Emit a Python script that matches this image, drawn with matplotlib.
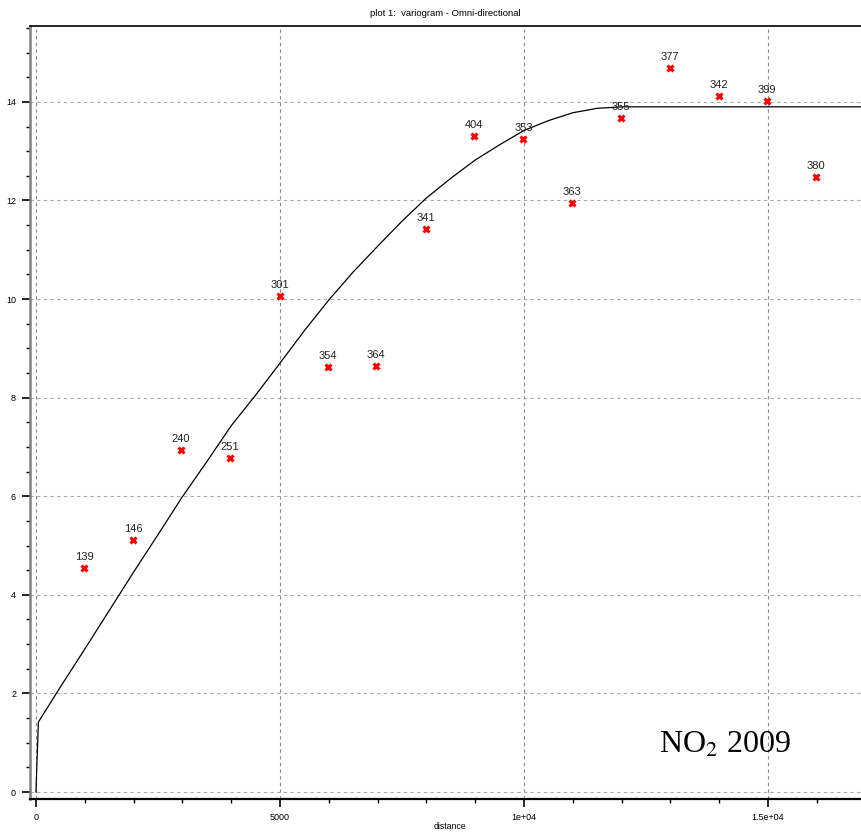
import matplotlib
matplotlib.use("Agg")
import matplotlib.pyplot as plt
from matplotlib.ticker import MultipleLocator

# empirical variogram (distance, semivariance, number of pairs)
dist = [990, 1990, 2970, 3975, 5000, 5985, 6970, 7990, 8975, 9990,
        10985, 11990, 12990, 13995, 14985, 15985]
gamma = [4.54, 5.11, 6.94, 6.78, 10.06, 8.62, 8.64, 11.42, 13.30, 13.25,
         11.95, 13.67, 14.69, 14.12, 14.02, 12.47]
npairs = ["139", "146", "240", "251", "301", "354", "364", "341", "404", "353",
          "363", "355", "377", "342", "399", "380"]

# fitted model curve
model_x = [0, 20, 50, 500, 1000, 1500, 2000, 2500, 3000, 3500, 4000, 4500,
           5000, 5500, 6000, 6500, 7000, 7500, 8000, 8500, 9000, 9500,
           10000, 10500, 11000, 11500, 12000, 16900]
model_y = [0.0, 0.6, 1.42, 2.13, 2.90, 3.68, 4.46, 5.22, 5.99, 6.70, 7.43,
           8.05, 8.70, 9.36, 9.98, 10.55, 11.07, 11.58, 12.05, 12.45, 12.82,
           13.13, 13.42, 13.62, 13.78, 13.87, 13.90, 13.90]

plt.rcParams["font.family"] = ["Liberation Sans", "DejaVu Sans"]

fig = plt.figure(figsize=(8.61, 8.33), dpi=100)
ax = fig.add_axes([0.0348, 0.0408, 0.9652, 0.928])

ax.plot(model_x, model_y, color="black", linewidth=0.9, zorder=3)
ax.plot(dist, gamma, linestyle="none", marker="x", color="#ff0000",
        markersize=5, markeredgewidth=2.2, zorder=4)
for x, y, n in zip(dist, gamma, npairs):
    ax.annotate(n, (x, y), xytext=(0, 4.5), textcoords="offset points",
                ha="center", va="bottom", fontsize=8, color="#222222")

ax.set_xlim(-123, 16906)
ax.set_ylim(-0.142, 15.54)

ax.xaxis.set_major_locator(MultipleLocator(5000))
ax.xaxis.set_minor_locator(MultipleLocator(1000))
ax.yaxis.set_major_locator(MultipleLocator(2))
ax.yaxis.set_minor_locator(MultipleLocator(0.5))
ax.set_xticks([0, 5000, 10000, 15000])
ax.set_xticklabels(["0", "5000", "1e+04", "1.5e+04"])

ax.tick_params(axis="both", which="major", length=6, width=1.2,
               labelsize=6.5, direction="out", color="black")
ax.tick_params(axis="both", which="minor", length=3, width=1.0,
               direction="out", color="black")
ax.tick_params(axis="y", which="major", pad=4)
ax.tick_params(axis="x", which="major", pad=4)

ax.grid(True, which="major", axis="x", linestyle=(0, (3, 3)),
        color="#888888", linewidth=0.8)
ax.grid(True, which="major", axis="y", linestyle=(0, (3, 3)),
        color="#aaaaaa", linewidth=0.8)
ax.set_axisbelow(True)

ax.spines["right"].set_visible(False)
ax.spines["left"].set_color("#808080")
ax.spines["left"].set_linewidth(1.8)
ax.spines["bottom"].set_linewidth(1.6)
ax.spines["top"].set_linewidth(1.2)

ax.set_title("plot 1:  variogram - Omni-directional", fontsize=6.8, pad=7)
ax.set_xlabel("distance", fontsize=6.3)
ax.xaxis.set_label_coords(0.505, -0.030)

ax.text(12766, 0.79, "NO$_2$ 2009", fontsize=23,
        family="Liberation Serif", math_fontfamily="stix",
        ha="left", va="baseline")

fig.savefig("out.png", dpi=100)
